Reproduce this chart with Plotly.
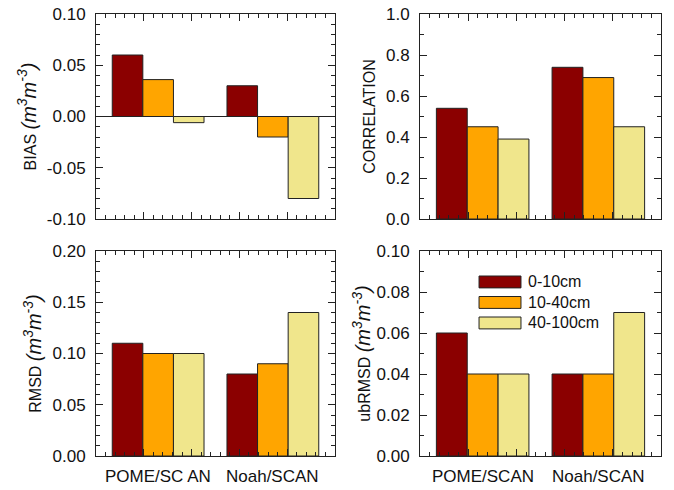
import plotly.graph_objects as go

# data
layers = ["0-10cm", "10-40cm", "40-100cm"]
colors = ["#8B0000", "#FFA500", "#F0E68C"]
groups = ["POME", "Noah"]
left_labels = ["POME/SC AN", "Noah/SCAN"]
right_labels = ["POME/SCAN", "Noah/SCAN"]

bias = [[0.06, 0.03], [0.036, -0.02], [-0.006, -0.08]]
corr = [[0.54, 0.74], [0.45, 0.69], [0.39, 0.45]]
rmsd = [[0.11, 0.08], [0.10, 0.09], [0.10, 0.14]]
ubrmsd = [[0.06, 0.04], [0.04, 0.04], [0.04, 0.07]]

bias_ticks = [-0.1, -0.05, 0.0, 0.05, 0.1]
bias_text = ["-0.10", "-0.05", "0.00", "0.05", "0.10"]

UNIT = " <i><span style='font-size:20px'>(m<sup>3</sup>m<sup>-3</sup>)</span></i>"
FONT = "Liberation Sans, Arial, sans-serif"
INK = "#222"

panels = [
    # values, y title, range, major, minor, x labels, title standoff
    (bias, "BIAS" + UNIT, [-0.1, 0.1], 0.05, 0.01, None, 6),
    (corr, "CORRELATION", [0, 1.0], 0.2, 0.1, None, 6),
    (rmsd, "RMSD" + UNIT, [0, 0.2], 0.05, 0.01, left_labels, 6),
    (ubrmsd, "ubRMSD" + UNIT, [0, 0.1], 0.02, 0.01, right_labels, 1),
]

# x axis runs 0..5 (tick units); groups sit 2.4 apart starting at 1.3
group_x = [1.3 + 2.4 * k for k in range(len(groups))]

W, H = 674, 490
xdom = [[96 / W, 335 / W], [420 / W, 661 / W]]
ydom = [[(H - 219) / H, (H - 14) / H], [(H - 456) / H, (H - 251) / H]]

fig = go.Figure()
layout = {}
notes = []

for p, (vals, ytitle, yrange, major, minor, xlabels, stand) in enumerate(panels):
    n = p + 1
    key = "" if n == 1 else str(n)
    xa, ya = "x" + key, "y" + key
    for i, layer in enumerate(layers):
        fig.add_trace(go.Bar(
            x=group_x, y=vals[i], name=layer, xaxis=xa, yaxis=ya,
            marker=dict(color=colors[i], line=dict(color=INK, width=1)),
            showlegend=False))

    col, row = p % 2, p // 2
    layout["xaxis" + key] = dict(
        domain=xdom[col], anchor=ya, range=[0, 5], dtick=1, automargin=False,
        showline=True, linecolor=INK, linewidth=1, mirror="ticks",
        ticks="inside", ticklen=7, tickcolor=INK, showticklabels=False,
        showgrid=False, zeroline=False,
        minor=dict(dtick=0.2, ticks="inside", ticklen=4, tickcolor=INK))
    yax = dict(
        domain=ydom[row], anchor=xa, range=yrange, dtick=major, automargin=False,
        tickformat=".1f" if major == 0.2 else ".2f", ticklabeloverflow="allow",
        showline=True, linecolor=INK, linewidth=1, mirror="ticks",
        ticks="inside", ticklen=7, tickcolor=INK, showgrid=False,
        minor=dict(dtick=minor, ticks="inside", ticklen=4, tickcolor=INK),
        zeroline=(n == 1), zerolinecolor=INK, zerolinewidth=1,
        tickfont=dict(size=17, color="#111"), ticklabelstandoff=6,
        title=dict(text=ytitle, font=dict(size=16, color="#111"), standoff=stand))
    if n == 1:
        yax.update(tickmode="array", tickvals=bias_ticks, ticktext=bias_text)
    layout["yaxis" + key] = yax

    if xlabels:
        for gx, lab in zip(group_x, xlabels):
            notes.append(dict(xref=xa, yref=ya + " domain", x=gx, y=0,
                              text=lab, showarrow=False, xanchor="center",
                              yanchor="top", yshift=-9,
                              font=dict(size=17, color="#111")))

# legend drawn inside the ubRMSD panel
shapes = []
for i, layer in enumerate(layers):
    top = 0.878 - 0.1 * i
    shapes.append(dict(type="rect", xref="x4 domain", yref="y4 domain",
                       x0=0.245, x1=0.419, y0=top - 0.058, y1=top,
                       fillcolor=colors[i], line=dict(color=INK, width=1)))
    notes.append(dict(xref="x4 domain", yref="y4 domain", x=0.44, y=top - 0.029,
                      text=layer, showarrow=False, xanchor="left", yanchor="middle",
                      font=dict(size=16, color="#111")))

fig.update_layout(
    template="none",
    width=W, height=H,
    margin=dict(l=0, r=0, t=0, b=0),
    paper_bgcolor="white", plot_bgcolor="white",
    font=dict(family=FONT, color="#111"),
    barmode="group", bargap=0.2, bargroupgap=0,
    shapes=shapes, annotations=notes,
    **layout)

# drop the page's default body margin so the figure sits at the window corner
fig.write_html("out.html", config={"displayModeBar": False},
               post_script="document.body.style.margin = '0px';")
